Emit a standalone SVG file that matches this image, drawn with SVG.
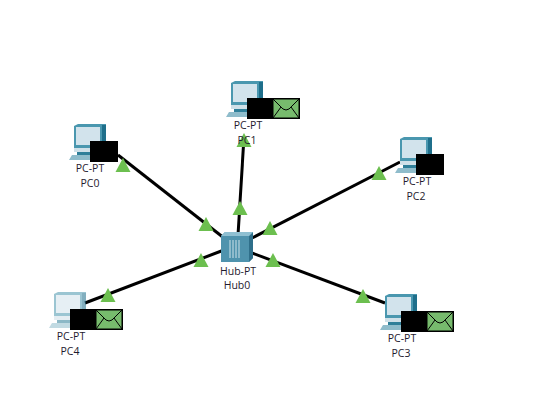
<svg xmlns="http://www.w3.org/2000/svg" xmlns:xlink="http://www.w3.org/1999/xlink" width="545" height="419" viewBox="0 0 545 419">
<style>
.link{stroke:#000;stroke-width:3;fill:none}
.t{font-family:"Open Sans","Noto Sans",sans-serif;font-size:10.5px;fill:#1f1a2e;text-anchor:middle}
.tri{fill:#6cbf4f}
.blk{fill:#000}
.env{fill:#77bb6d;stroke:#000;stroke-width:1.5}
</style>
<defs>
<symbol id="pc" width="40" height="40" viewBox="0 0 40 40" overflow="visible">
<path d="M5 2 L9 0 H37 V20 L33 24 H5 Z" fill="#4a97af"/>
<path d="M33 1 H37 V20 L33 24 Z" fill="#1f6f8b"/>
<rect x="7" y="3" width="24" height="18" fill="#d2e3ec"/>
<rect x="5" y="24" width="27" height="4" fill="#cfe0e8"/>
<rect x="8" y="28" width="24" height="3" fill="#2f7f99"/>
<path d="M3 31 H34 V36 H0 Z" fill="#8fbccb"/>
</symbol>
<symbol id="mail" width="28" height="21" viewBox="0 0 28 21" overflow="visible">
<rect x="0.75" y="0.75" width="26.5" height="19.5" class="env"/>
<path d="M1 1 L11 11 Q14 13 17 11 L27 1 M1 20 L9 9 M27 20 L19 9" fill="none" stroke="#000" stroke-width="1"/>
</symbol>
<polygon id="tr" points="0,-7 7.5,7 -7.5,7" class="tri"/>
</defs>
<rect width="545" height="419" fill="#fff"/>
<g id="connectors">
<line class="link" x1="118" y1="155" x2="224" y2="238"/>
<line class="link" x1="244" y1="137" x2="238" y2="235"/>
<line class="link" x1="400" y1="162" x2="252" y2="238"/>
<line class="link" x1="85" y1="303" x2="224" y2="250"/>
<line class="link" x1="385" y1="303" x2="252" y2="253"/>
</g>
<g id="markers">
<use xlink:href="#tr" href="#tr" x="123" y="165"/>
<use xlink:href="#tr" href="#tr" x="206" y="224"/>
<use xlink:href="#tr" href="#tr" x="240" y="208"/>
<use xlink:href="#tr" href="#tr" x="379" y="173"/>
<use xlink:href="#tr" href="#tr" x="270" y="228"/>
<use xlink:href="#tr" href="#tr" x="201" y="260"/>
<use xlink:href="#tr" href="#tr" x="108" y="295"/>
<use xlink:href="#tr" href="#tr" x="273" y="260"/>
<use xlink:href="#tr" href="#tr" x="363" y="296"/>
<use xlink:href="#tr" href="#tr" x="244" y="140"/>
</g>
<g id="Hub0">
<path d="M221 236 L225 232 H253 V258 L249 262 H221 Z" fill="#4f93ad"/>
<path d="M249 236 L253 232 V258 L249 262 Z" fill="#2f6f8a"/>
<path d="M221 236 L225 232 H253 L249 236 Z" fill="#8fc0d2"/>
<path d="M230 240 V258 M233 240 V258 M236 240 V258 M239 240 V258" stroke="#cfe3ea" stroke-width="1"/>
<text class="t" x="238" y="275">Hub-PT</text>
<text class="t" x="237" y="289">Hub0</text>
</g>
<g id="PC0">
<use xlink:href="#pc" href="#pc" x="69" y="124"/>
<rect class="blk" x="90" y="141" width="28" height="21"/>
<text class="t" x="90" y="172">PC-PT</text>
<text class="t" x="90" y="187">PC0</text>
</g>
<g id="PC1">
<use xlink:href="#pc" href="#pc" x="226" y="81"/>
<rect class="blk" x="247" y="98" width="26" height="21"/>
<use xlink:href="#mail" href="#mail" x="272" y="98"/>
<text class="t" x="248" y="129">PC-PT</text>
<text class="t" x="247" y="144">PC1</text>
</g>
<g id="PC2">
<use xlink:href="#pc" href="#pc" x="395" y="137"/>
<rect class="blk" x="416" y="154" width="28" height="21"/>
<text class="t" x="417" y="185">PC-PT</text>
<text class="t" x="416" y="200">PC2</text>
</g>
<g id="PC3">
<use xlink:href="#pc" href="#pc" x="380" y="294"/>
<rect class="blk" x="401" y="311" width="26" height="21"/>
<use xlink:href="#mail" href="#mail" x="426" y="311"/>
<text class="t" x="402" y="342">PC-PT</text>
<text class="t" x="401" y="357">PC3</text>
</g>
<g id="PC4">
<use xlink:href="#pc" href="#pc" x="49" y="292" opacity="0.55"/>
<rect class="blk" x="70" y="309" width="26" height="21"/>
<use xlink:href="#mail" href="#mail" x="95" y="309"/>
<text class="t" x="71" y="340">PC-PT</text>
<text class="t" x="70" y="355">PC4</text>
</g>
</svg>
